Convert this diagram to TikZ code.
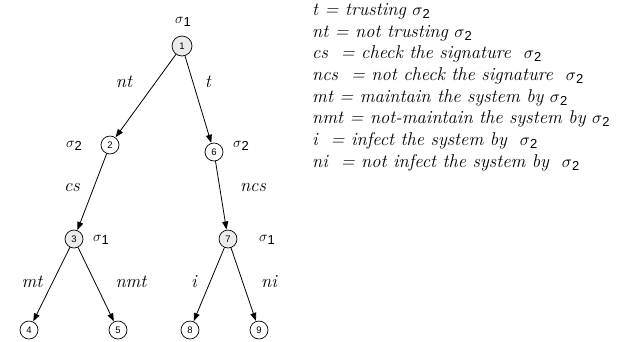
\documentclass[tikz,border=0pt]{standalone}
\usepackage{fontspec}
\newfontfamily\arial{Liberation Sans}
\usetikzlibrary{arrows.meta}
\newcommand{\sg}[1]{$\sigma$\raisebox{-0.45ex}{\arial\upshape\fontsize{13}{13}\selectfont #1}}
\tikzset{
  st/.style={circle, draw, line width=0.7pt, minimum size=18pt, inner sep=0pt,
             font=\arial\fontsize{9.5}{9.5}\selectfont},
  gst/.style={st, fill=black!8},
  br/.style={line width=0.8pt, -{Triangle[length=8pt,width=6pt]}, shorten >=0.3pt},
  lab/.style={font=\itshape\fontsize{18.5}{18.5}\selectfont, inner sep=0pt},
  pl/.style={font=\fontsize{14}{14}\selectfont, inner sep=0pt},
  leg/.style={anchor=base west, inner sep=0pt, font=\itshape\fontsize{18.5}{18.5}\selectfont},
}
\begin{document}
\begin{tikzpicture}[x=1pt, y=-1pt]
\useasboundingbox (0,0) rectangle (617,341);
% game tree states
\node[gst, minimum size=20pt] (n1) at (182,46) {1};
\node[st]  (n2) at (110,145) {2};
\node[st]  (n6) at (214,152) {6};
\node[gst] (n3) at (74,239) {3};
\node[gst] (n7) at (228,239) {7};
\node[st]  (n4) at (29,330) {4};
\node[st]  (n5) at (118,330) {5};
\node[st]  (n8) at (190,330) {8};
\node[st]  (n9) at (259,330) {9};
% moves
\draw[br] (n1) -- (n2);
\draw[br] (n1) -- (n6);
\draw[br] (n2) -- (n3);
\draw[br] (n6) -- (n7);
\draw[br] (n3) -- (n4);
\draw[br] (n3) -- (n5);
\draw[br] (n7) -- (n8);
\draw[br] (n7) -- (n9);
% players
\node[pl] (p1) at (183,22) {\sg{1}};
\node[pl] (p2) at (74,146) {\sg{2}};
\node[pl] (p6) at (241,146) {\sg{2}};
\node[pl] (p3) at (101,240) {\sg{1}};
\node[pl] (p7) at (267,240) {\sg{1}};
% move labels
\node[lab] (lnt) at (124,82) {nt};
\node[lab] (lt) at (208,82) {t};
\node[lab] (lcs) at (72,188) {cs};
\node[lab] (lncs) at (253,188) {ncs};
\node[lab] (lmt) at (32,282) {mt};
\node[lab] (lnmt) at (131,282) {nmt};
\node[lab] (li) at (194,282) {i};
\node[lab] (lni) at (269,282) {ni};
% legend
\node[leg] (g1) at (312,15) {t = trusting \sg{2}};
\node[leg] (g2) at (312,37) {nt = not trusting \sg{2}};
\node[leg] (g3) at (312,58) {cs\ \ = check the signature\ \ \sg{2}};
\node[leg] (g4) at (312,80) {ncs\ \ = not check the signature\ \ \sg{2}};
\node[leg] (g5) at (312,102) {mt = maintain the system by \sg{2}};
\node[leg] (g6) at (312,123) {nmt = not-maintain the system by \sg{2}};
\node[leg] (g7) at (312,145) {i\ \ = infect the system by\ \ \sg{2}};
\node[leg] (g8) at (312,167) {ni\ \ = not infect the system by\ \ \sg{2}};
\end{tikzpicture}
\end{document}
